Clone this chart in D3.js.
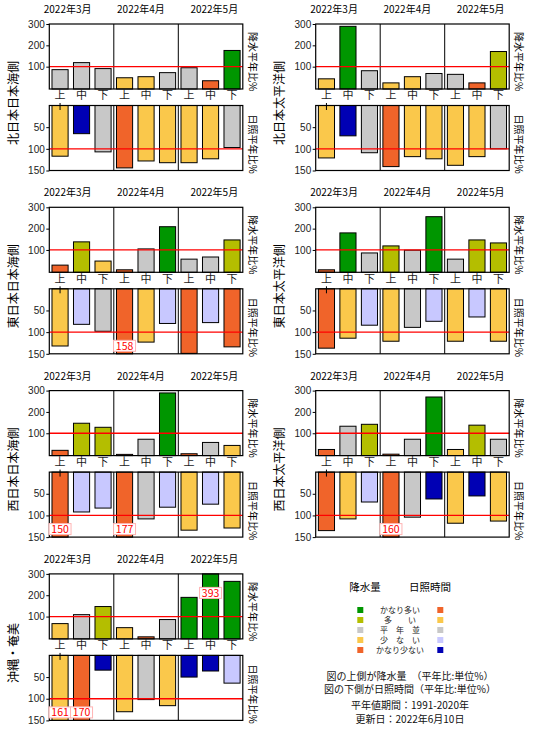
<!DOCTYPE html>
<html lang="ja">
<head>
<meta charset="utf-8">
<script src="https://cdn.jsdelivr.net/npm/d3@7"></script>
<style>
  body { margin: 0; background: #fff; }
  svg { display: block; font-family: "Noto Sans CJK JP", sans-serif; }
</style>
</head>
<body>
<div id="chart"></div>
<script>
// 地域と期間
const regions = ["北日本日本海側", "北日本太平洋側", "東日本日本海側", "東日本太平洋側",
                 "西日本日本海側", "西日本太平洋側", "沖縄・奄美"];
const months = ["2022年3月", "2022年4月", "2022年5月"];
const dekads = ["上", "中", "下"];

// 降水量 平年比 (%)
const precip = [
  [86, 119, 91, 48, 53, 72, 95, 34, 176],
  [43, 289, 81, 24, 53, 68, 64, 24, 171],
  [29, 138, 48, 7, 105, 209, 57, 67, 147],
  [7, 180, 86, 119, 99, 256, 57, 147, 133],
  [20, 147, 128, 1, 72, 289, 4, 57, 43],
  [24, 133, 142, 2, 72, 270, 24, 138, 72],
  [67, 109, 147, 48, 5, 86, 190, 393, 265]
];
// 階級 0:かなり多い 1:多い 2:平年並 3:少ない 4:かなり少ない
const precipClass = [
  [2, 2, 2, 3, 3, 2, 2, 4, 0],
  [3, 0, 2, 3, 3, 2, 2, 4, 1],
  [4, 1, 3, 4, 2, 0, 2, 2, 1],
  [4, 0, 2, 1, 2, 0, 2, 1, 1],
  [4, 1, 1, 4, 2, 0, 4, 2, 3],
  [4, 2, 1, 4, 2, 0, 3, 1, 2],
  [3, 2, 1, 3, 4, 2, 0, 0, 0]
];

// 日照時間 平年比 (%)
const sunshine = [
  [117, 65, 107, 144, 128, 132, 132, 123, 97],
  [121, 70, 109, 141, 118, 123, 138, 118, 100],
  [132, 82, 98, 158, 123, 80, 149, 78, 134],
  [137, 114, 84, 121, 89, 75, 121, 65, 121],
  [150, 92, 83, 177, 108, 81, 134, 74, 129],
  [135, 108, 69, 160, 104, 62, 118, 55, 113],
  [161, 170, 34, 130, 102, 116, 50, 36, 64]
];
const sunClass = [
  [1, 4, 2, 0, 1, 1, 1, 1, 2],
  [1, 4, 2, 0, 1, 1, 1, 1, 2],
  [1, 3, 2, 0, 1, 3, 0, 3, 0],
  [0, 1, 3, 1, 2, 3, 1, 3, 1],
  [0, 3, 3, 0, 2, 3, 1, 3, 1],
  [0, 1, 3, 0, 2, 4, 1, 4, 1],
  [1, 0, 4, 1, 2, 1, 4, 4, 3]
];

const classLabels = ["かなり多い", "多　　い", "平　年　並", "少　な　い", "かなり少ない"];
const precipColors = ["#009600", "#b4be00", "#c8c8c8", "#fac84b", "#f0642a"];
const sunColors = ["#f0642a", "#fac84b", "#c8c8c8", "#c8c8ff", "#0000b4"];

const notes = ["図の上側が降水量　（平年比:単位%）", "図の下側が日照時間（平年比:単位%）",
               "平年値期間：1991-2020年", "更新日：2022年6月10日"];

// layout
const W = 193.5, PH = 65, LT = 81.5;
const colX = [49.3, 315.7];
const rowStep = 183.3, top0 = 24;

const svg = d3.select("#chart").append("svg")
  .attr("width", 550)
  .attr("height", 750);

const x = d3.scaleBand().domain(d3.range(9)).range([0, W]).paddingInner(0.25).paddingOuter(0.125);
const xMonth = d3.scaleBand().domain(months).range([0, W]);
const xMonthLabel = d3.scalePoint().domain(months).range([18.3, 165]);
const yP = d3.scaleLinear().domain([0, 300]).range([64, 0]);
const yS = d3.scaleLinear().domain([0, 150]).range([0, PH]);

function overflowLabel(g, cx, cy, txt) {
  const lg = g.append("g").attr("transform", "translate(" + cx + "," + cy + ")");
  lg.append("rect").attr("x", -11).attr("y", -5.5).attr("width", 22).attr("height", 11)
    .attr("fill", "#fff").attr("stroke", "#ffb4b4").attr("stroke-width", 1);
  lg.append("text").attr("text-anchor", "middle").attr("dy", "0.36em")
    .attr("font-size", 10.5).attr("fill", "#f00").text(txt);
}

function drawPanel(i) {
  const g = svg.append("g")
    .attr("transform", "translate(" + colX[i % 2] + "," + (top0 + rowStep * Math.floor(i / 2)) + ")");

  // month labels
  g.selectAll(".month").data(months).enter().append("text")
    .attr("x", d => xMonthLabel(d)).attr("y", -14.5).attr("dy", "0.35em")
    .attr("text-anchor", "middle").attr("font-size", 10).text(d => d);

  // region label
  g.append("text")
    .attr("transform", "translate(-35.5,79) rotate(-90)")
    .attr("text-anchor", "middle").attr("dy", "0.35em")
    .attr("font-size", 12).text(regions[i]);

  // ---- upper: precipitation ----
  const up = g.append("g");
  up.selectAll("rect.bar").data(precip[i]).enter().append("rect")
    .attr("x", (d, j) => x(j)).attr("width", x.bandwidth())
    .attr("y", d => yP(Math.min(d, 300)))
    .attr("height", d => PH - yP(Math.min(d, 300)))
    .attr("fill", (d, j) => precipColors[precipClass[i][j]])
    .attr("stroke", "#000").attr("stroke-width", 1);

  up.selectAll(".div").data(months.slice(1)).enter().append("line")
    .attr("x1", d => xMonth(d)).attr("x2", d => xMonth(d))
    .attr("y1", 0).attr("y2", PH).attr("stroke", "#000");

  up.append("line").attr("x1", 0).attr("x2", W)
    .attr("y1", yP(100)).attr("y2", yP(100))
    .attr("stroke", "#f00").attr("stroke-width", 1.3);

  up.append("rect").attr("width", W).attr("height", PH)
    .attr("fill", "none").attr("stroke", "#000").attr("stroke-width", 1.2);

  const axP = up.append("g")
    .call(d3.axisLeft(yP).tickValues([100, 200, 300]).tickSize(3).tickPadding(1.5));
  axP.select(".domain").remove();
  axP.selectAll("text").attr("font-size", 10).attr("font-family", null).attr("fill", "#222");

  up.append("text")
    .attr("transform", "translate(" + (W + 9.5) + ",8) rotate(90)")
    .attr("dy", "0.35em").attr("font-size", 10).text("降水平年比%");

  precip[i].forEach((d, j) => {
    if (d > 300) overflowLabel(up, x(j) + x.bandwidth() / 2, 19, d);
  });

  // dekad labels
  g.selectAll(".dek").data(d3.range(9)).enter().append("text")
    .attr("x", j => x(j) + x.bandwidth() / 2).attr("y", 71.5).attr("dy", "0.35em")
    .attr("text-anchor", "middle").attr("font-size", 11).attr("fill", "#222")
    .text(j => dekads[j % 3]);

  // ---- lower: sunshine ----
  const lo = g.append("g").attr("transform", "translate(0," + LT + ")");
  lo.selectAll("rect.bar").data(sunshine[i]).enter().append("rect")
    .attr("x", (d, j) => x(j)).attr("width", x.bandwidth())
    .attr("y", 0)
    .attr("height", d => yS(Math.min(d, 150)))
    .attr("fill", (d, j) => sunColors[sunClass[i][j]])
    .attr("stroke", "#000").attr("stroke-width", 1);

  lo.selectAll(".div").data(months.slice(1)).enter().append("line")
    .attr("x1", d => xMonth(d)).attr("x2", d => xMonth(d))
    .attr("y1", 0).attr("y2", PH).attr("stroke", "#000");

  lo.append("line").attr("x1", 0).attr("x2", W)
    .attr("y1", yS(100)).attr("y2", yS(100))
    .attr("stroke", "#f00").attr("stroke-width", 1.3);

  lo.append("rect").attr("width", W).attr("height", PH)
    .attr("fill", "none").attr("stroke", "#000").attr("stroke-width", 1.2);

  const axS = lo.append("g")
    .call(d3.axisLeft(yS).tickValues([50, 100, 150]).tickSize(3).tickPadding(1.5));
  axS.select(".domain").remove();
  axS.selectAll("text").attr("font-size", 10).attr("font-family", null).attr("fill", "#222");

  lo.append("text")
    .attr("transform", "translate(" + (W + 9.5) + ",9) rotate(90)")
    .attr("dy", "0.35em").attr("font-size", 10).text("日照平年比%");

  sunshine[i].forEach((d, j) => {
    if (d >= 150) overflowLabel(lo, x(j) + x.bandwidth() / 2, PH - 8, d);
  });

  // small mark at the first dekad
  g.append("line")
    .attr("x1", x(0) + x.bandwidth() / 2).attr("x2", x(0) + x.bandwidth() / 2)
    .attr("y1", 79).attr("y2", 86).attr("stroke", "#000");
}

regions.forEach((r, i) => drawPanel(i));

// ---- legend ----
const leg = svg.append("g");
leg.append("text").attr("x", 365).attr("y", 587).attr("dy", "0.35em")
  .attr("text-anchor", "middle").attr("font-size", 10.5).text("降水量");
leg.append("text").attr("x", 430).attr("y", 587).attr("dy", "0.35em")
  .attr("text-anchor", "middle").attr("font-size", 10.5).text("日照時間");

const rows = leg.selectAll(".lrow").data(classLabels).enter().append("g")
  .attr("transform", (d, k) => "translate(0," + (610 + 10 * k) + ")");
rows.append("rect").attr("x", 357.3).attr("y", -3).attr("width", 6).attr("height", 6)
  .attr("fill", (d, k) => precipColors[k]);
rows.append("rect").attr("x", 437.3).attr("y", -3).attr("width", 6).attr("height", 6)
  .attr("fill", (d, k) => sunColors[k]);
rows.append("text").attr("x", 400).attr("dy", "0.35em")
  .attr("text-anchor", "middle").attr("font-size", 8).attr("fill", "#222").text(d => d);

const noteY = [676, 689.5, 705, 719];
leg.selectAll(".note").data(notes).enter().append("text")
  .attr("x", 410).attr("y", (d, k) => noteY[k]).attr("dy", "0.35em")
  .attr("text-anchor", "middle").attr("font-size", 10).attr("fill", "#111").text(d => d);
</script>
</body>
</html>
